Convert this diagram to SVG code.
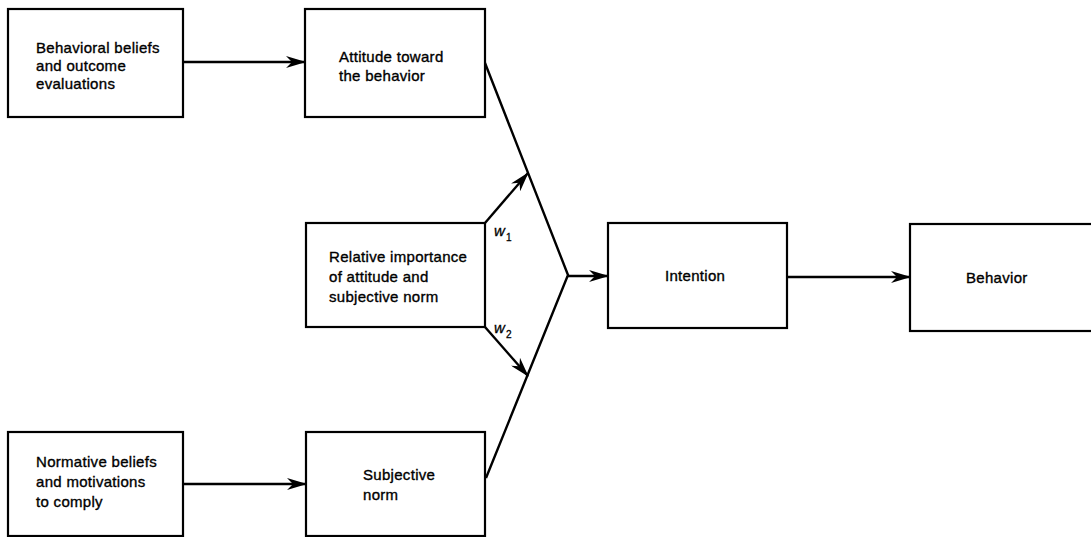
<svg xmlns="http://www.w3.org/2000/svg" width="1091" height="537" viewBox="0 0 1091 537">
<style>
.box{fill:#fff;stroke:#000;stroke-width:2.2}
.t{font-family:"Liberation Sans",Arial,sans-serif;font-size:15px;letter-spacing:0.3px;fill:#000;stroke:#000;stroke-width:0.35}
.w{font-family:"Liberation Sans",Arial,sans-serif;font-size:15px;font-style:italic;fill:#000;stroke:#000;stroke-width:0.3}
.s{font-family:"Liberation Sans",Arial,sans-serif;font-size:10px;fill:#000;stroke:#000;stroke-width:0.3}
.c{fill:none;stroke:#000;stroke-width:2.4}
</style>
<defs>
<marker id="ah" viewBox="0 0 20 12" refX="19" refY="6" markerWidth="20" markerHeight="12" markerUnits="userSpaceOnUse" orient="auto">
<path d="M0,0 L20,6 L0,12 L6,6 Z" fill="#000"/>
</marker>
</defs>
<rect width="1091" height="537" fill="#fff"/>
<g id="connectors">
<line class="c" x1="183" y1="62" x2="305" y2="62" marker-end="url(#ah)"/>
<line class="c" x1="183" y1="484" x2="306" y2="484" marker-end="url(#ah)"/>
<polyline class="c" points="485,63 568,275 486,478"/>
<line class="c" x1="485" y1="223" x2="528" y2="173" marker-end="url(#ah)"/>
<line class="c" x1="485" y1="327" x2="528" y2="376" marker-end="url(#ah)"/>
<line class="c" x1="568" y1="276" x2="608" y2="276" marker-end="url(#ah)"/>
<line class="c" x1="787" y1="277" x2="910" y2="277" marker-end="url(#ah)"/>
<text class="w" x="494" y="236">w</text><text class="s" x="506" y="241">1</text>
<text class="w" x="494" y="333">w</text><text class="s" x="506" y="338">2</text>
</g>
<g id="behavioral-beliefs">
<rect class="box" x="8" y="9" width="175" height="108"/>
<text class="t" x="36" y="53">Behavioral beliefs</text>
<text class="t" x="36" y="71">and outcome</text>
<text class="t" x="36" y="89">evaluations</text>
</g>
<g id="attitude">
<rect class="box" x="305" y="9" width="180" height="108"/>
<text class="t" x="339" y="62">Attitude toward</text>
<text class="t" x="339" y="81">the behavior</text>
</g>
<g id="relative-importance">
<rect class="box" x="306" y="223" width="179" height="104"/>
<text class="t" x="329" y="262">Relative importance</text>
<text class="t" x="329" y="282">of attitude and</text>
<text class="t" x="329" y="302">subjective norm</text>
</g>
<g id="intention">
<rect class="box" x="608" y="223" width="179" height="105"/>
<text class="t" x="665" y="281">Intention</text>
</g>
<g id="behavior">
<rect class="box" x="910" y="224" width="190" height="107"/>
<text class="t" x="966" y="283">Behavior</text>
</g>
<g id="normative-beliefs">
<rect class="box" x="8" y="432" width="175" height="104"/>
<text class="t" x="36" y="467">Normative beliefs</text>
<text class="t" x="36" y="487">and motivations</text>
<text class="t" x="36" y="507">to comply</text>
</g>
<g id="subjective-norm">
<rect class="box" x="306" y="432" width="179" height="104"/>
<text class="t" x="363" y="480">Subjective</text>
<text class="t" x="363" y="500">norm</text>
</g>
</svg>
